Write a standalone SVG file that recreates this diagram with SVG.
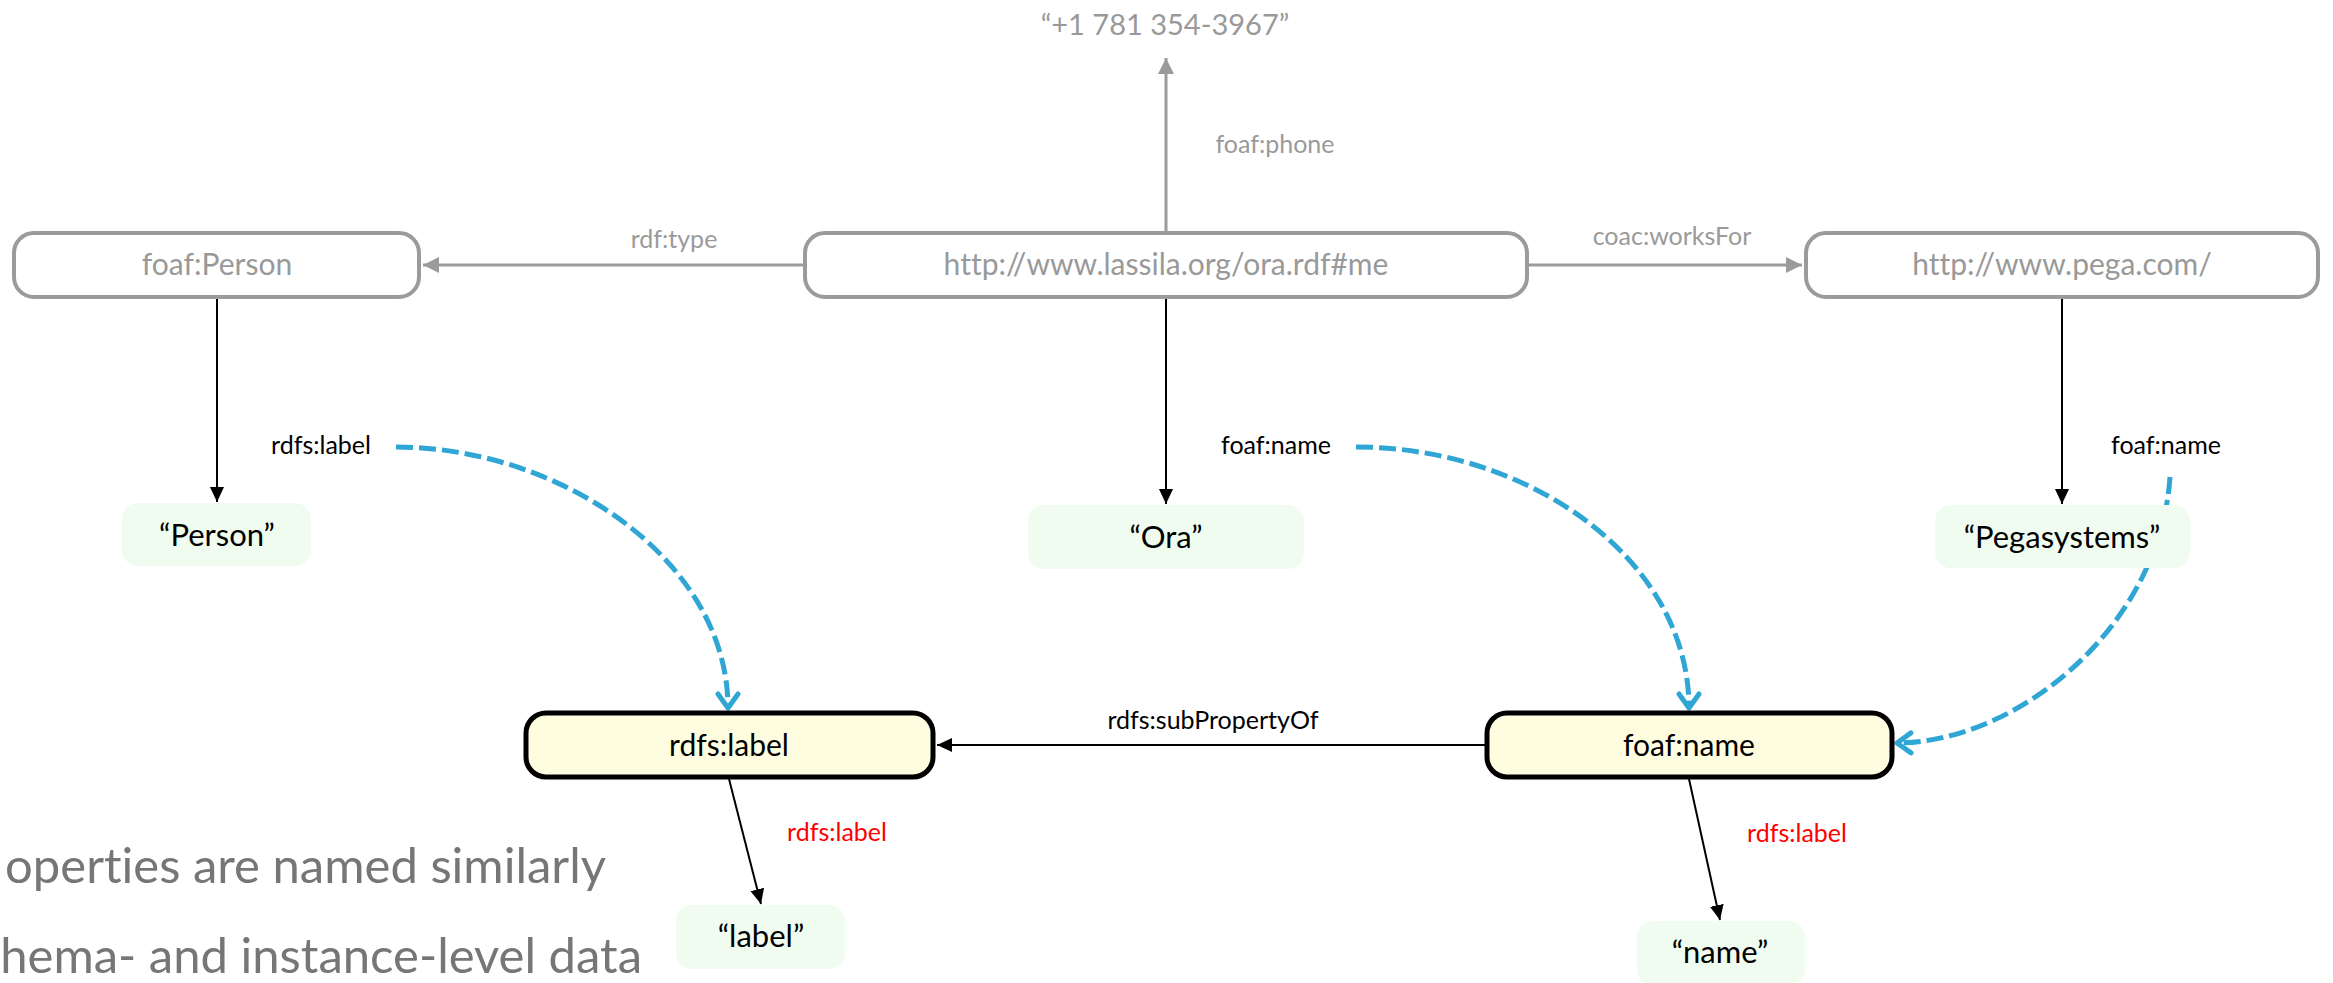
<svg xmlns="http://www.w3.org/2000/svg" width="2333" height="983" viewBox="0 0 2333 983">
  <style>
    text { font-family: Lato, "Liberation Sans", sans-serif; font-variant-ligatures: none; }
    .res { fill: #ffffff; stroke: #9b9b9b; stroke-width: 4; }
    .prop { fill: #fffde0; stroke: #000000; stroke-width: 5; }
    .lit { fill: #effcef; stroke: none; }
    .tgray { fill: #999999; font-size: 30px; text-anchor: middle; }
    .tblack { fill: #000000; font-size: 30px; text-anchor: middle; }
    .tlit { fill: #000000; font-size: 31px; text-anchor: middle; }
    .lgray { fill: #9a9a9a; font-size: 25px; text-anchor: middle; }
    .lblack { fill: #000000; font-size: 25px; text-anchor: middle; }
    .lred { fill: #ff0000; font-size: 25px; text-anchor: middle; }
    .big { fill: #767676; font-size: 49px; text-anchor: end; }
    .egray { stroke: #9b9b9b; stroke-width: 3; fill: none; marker-end: url(#ahGray); }
    .eblack { stroke: #000000; stroke-width: 2; fill: none; marker-end: url(#ahBlack); }
    .eblue { stroke: #2fa6d4; stroke-width: 5; fill: none; stroke-dasharray: 17 6; marker-end: url(#ahBlue); }
  </style>
  <defs>
    <marker id="ahGray" markerUnits="userSpaceOnUse" markerWidth="20" markerHeight="20" refX="16" refY="8" orient="auto">
      <path d="M0,0 L16,8 L0,16 Z" fill="#9b9b9b"/>
    </marker>
    <marker id="ahBlack" markerUnits="userSpaceOnUse" markerWidth="20" markerHeight="20" refX="15" refY="7" orient="auto">
      <path d="M0,0 L15,7 L0,14 Z" fill="#000000"/>
    </marker>
    <marker id="ahBlue" markerUnits="userSpaceOnUse" markerWidth="30" markerHeight="30" refX="17" refY="13" orient="auto">
      <path d="M3,3 L17,13 L3,23" fill="none" stroke="#2fa6d4" stroke-width="5" stroke-linecap="round" stroke-linejoin="round"/>
    </marker>
  </defs>

  <!-- slide body text along the left edge -->
  <text class="big" x="606" y="883">operties are named similarly</text>
  <text class="big" x="642" y="973">hema- and instance-level data</text>

  <!-- connectors -->
  <g id="connectors">
    <line class="egray" x1="1166" y1="232" x2="1166" y2="58"/>
    <line class="egray" x1="803" y1="265" x2="423" y2="265"/>
    <line class="egray" x1="1529" y1="265" x2="1802" y2="265"/>
    <line class="eblack" x1="217" y1="299" x2="217" y2="502"/>
    <line class="eblack" x1="1166" y1="299" x2="1166" y2="504"/>
    <line class="eblack" x1="2062" y1="299" x2="2062" y2="504"/>
    <line class="eblack" x1="1485" y1="745" x2="937" y2="745"/>
    <line class="eblack" x1="729" y1="779" x2="761" y2="904"/>
    <line class="eblack" x1="1689" y1="779" x2="1720" y2="920"/>
    <path class="eblue" d="M396,447 C560,447 728,560 728,708"/>
    <path class="eblue" d="M1356,447 C1530,447 1689,560 1689,708"/>
    <path class="eblue" d="M2170,477 C2160,625 2020,742 1897,743"/>

    <text class="lgray" x="1275" y="153">foaf:phone</text>
    <text class="lgray" x="674" y="248">rdf:type</text>
    <text class="lgray" x="1672" y="245">coac:worksFor</text>
    <text class="lblack" x="321" y="454">rdfs:label</text>
    <text class="lblack" x="1276" y="454">foaf:name</text>
    <text class="lblack" x="2166" y="454">foaf:name</text>
    <text class="lblack" x="1213" y="729">rdfs:subPropertyOf</text>
    <text class="lred" x="837" y="841">rdfs:label</text>
    <text class="lred" x="1797" y="842">rdfs:label</text>
  </g>

  <!-- literal with no box -->
  <g id="phone">
    <text class="tgray" x="1165" y="35" style="font-size:29px">“+1 781 354-3967”</text>
  </g>

  <!-- resources -->
  <g id="person-class">
    <rect class="res" x="14" y="233" width="405" height="64" rx="20"/>
    <text class="tgray" x="217" y="275">foaf:Person</text>
  </g>
  <g id="ora">
    <rect class="res" x="805" y="233" width="722" height="64" rx="20"/>
    <text class="tgray" x="1166" y="275">http://www.lassila.org/ora.rdf#me</text>
  </g>
  <g id="pega">
    <rect class="res" x="1806" y="233" width="512" height="64" rx="20"/>
    <text class="tgray" x="2062" y="275">http://www.pega.com/</text>
  </g>

  <!-- literals -->
  <g id="lit-person">
    <rect class="lit" x="122" y="503" width="189" height="63" rx="16"/>
    <text class="tlit" x="217" y="546">“Person”</text>
  </g>
  <g id="lit-ora">
    <rect class="lit" x="1028" y="505" width="276" height="64" rx="16"/>
    <text class="tlit" x="1166" y="548">“Ora”</text>
  </g>
  <g id="lit-pega">
    <rect class="lit" x="1935" y="505" width="255" height="63" rx="16"/>
    <text class="tlit" x="2062" y="548">“Pegasystems”</text>
  </g>
  <g id="lit-label">
    <rect class="lit" x="676" y="905" width="169" height="64" rx="16"/>
    <text class="tlit" x="761" y="947">“label”</text>
  </g>
  <g id="lit-name">
    <rect class="lit" x="1637" y="921" width="168" height="64" rx="16"/>
    <text class="tlit" x="1720" y="963">“name”</text>
  </g>

  <!-- properties -->
  <g id="rdfs-label">
    <rect class="prop" x="526" y="713" width="407" height="64" rx="20"/>
    <text class="tblack" x="729" y="756">rdfs:label</text>
  </g>
  <g id="foaf-name">
    <rect class="prop" x="1487" y="713" width="405" height="64" rx="20"/>
    <text class="tblack" x="1689" y="756">foaf:name</text>
  </g>
</svg>
